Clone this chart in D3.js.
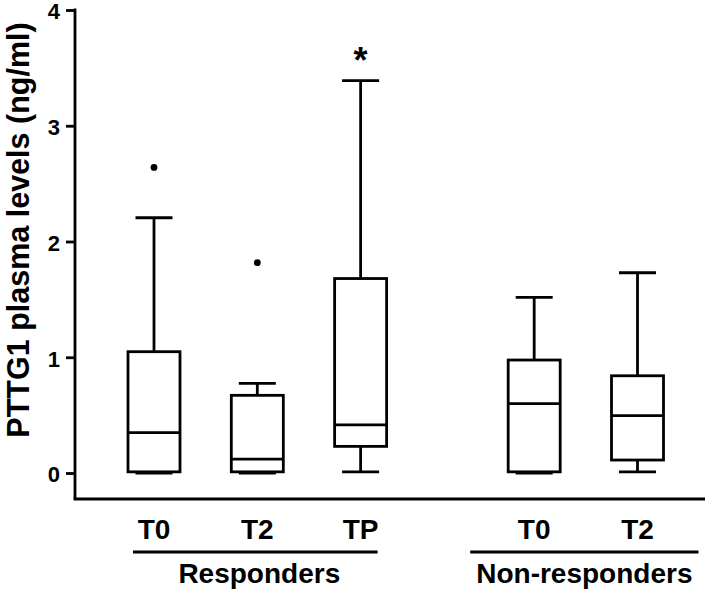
<!DOCTYPE html>
<html>
<head>
<meta charset="utf-8">
<script src="https://cdn.jsdelivr.net/npm/d3@7"></script>
<style>
  html, body { margin: 0; padding: 0; background: #fff; }
  svg { display: block; }
  text { font-family: Arial, "Liberation Sans", Helvetica, sans-serif; font-weight: bold; fill: #000; }
</style>
</head>
<body>
<svg id="chart" width="705" height="591"></svg>
<script>
// ---- data ----
const categories = ["T0", "T2", "TP", "T0", "T2"];
const groups = ["Responders", "Responders", "Responders", "Non-responders", "Non-responders"];
const groupNames = ["Responders", "Non-responders"];
const whiskerLow = [0.0, 0.0, 0.01, 0.0, 0.01];
const q1 = [0.01, 0.01, 0.23, 0.01, 0.112];
const median = [0.348, 0.12, 0.415, 0.599, 0.495];
const q3 = [1.048, 0.671, 1.68, 0.976, 0.84];
const whiskerHigh = [2.205, 0.775, 3.39, 1.518, 1.73];
const outliers = [[2.64], [1.817], [], [], []];
const significance = ["", "", "*", "", ""];
const yTicks = [0, 1, 2, 3, 4];
const yLabel = "PTTG1 plasma levels (ng/ml)";

// ---- layout ----
const svg = d3.select("#chart");
const groupGap = 0.68;
const slots = categories.map((c, i) => i + groupNames.indexOf(groups[i]) * groupGap);

const x = d3.scaleLinear().domain([0, d3.max(slots)]).range([154, 637.5]);
const y = d3.scaleLinear().domain([0, 4]).range([473, 10]);

const axisX = 75, axisBottom = 499;
const boxW = 52, capW = 37;
const sw = 2.8;

// y axis
const yAxis = d3.axisLeft(y).tickValues(yTicks).tickSize(9).tickPadding(6).tickFormat(d3.format("d"));
const gy = svg.append("g").attr("transform", `translate(${axisX},0)`).call(yAxis);
gy.select(".domain").remove();
gy.selectAll(".tick line").attr("stroke", "#000").attr("stroke-width", sw);
gy.selectAll(".tick text").attr("font-size", 22).attr("font-weight", "bold")
  .attr("font-family", "Arial, 'Liberation Sans', sans-serif").attr("fill", "#000")
  .attr("dy", "0.4em");
svg.append("line").attr("x1", axisX).attr("x2", axisX).attr("y1", y(4) - sw / 2).attr("y2", axisBottom)
  .attr("stroke", "#000").attr("stroke-width", sw);

// x axis line
svg.append("line").attr("x1", axisX - sw / 2).attr("x2", 705).attr("y1", axisBottom).attr("y2", axisBottom)
  .attr("stroke", "#000").attr("stroke-width", sw);

// y title
svg.append("text")
  .attr("transform", `translate(29,${230}) rotate(-90)`)
  .attr("text-anchor", "middle")
  .attr("font-size", 30.5)
  .text(yLabel);

// boxes
const g = svg.append("g").attr("fill", "none").attr("stroke", "#000").attr("stroke-width", sw);
categories.forEach((c, i) => {
  const cx = x(slots[i]);
  // whiskers
  g.append("line").attr("x1", cx).attr("x2", cx).attr("y1", y(q3[i])).attr("y2", y(whiskerHigh[i]));
  g.append("line").attr("x1", cx).attr("x2", cx).attr("y1", y(q1[i])).attr("y2", y(whiskerLow[i]));
  g.append("line").attr("x1", cx - capW / 2).attr("x2", cx + capW / 2).attr("y1", y(whiskerHigh[i])).attr("y2", y(whiskerHigh[i]));
  g.append("line").attr("x1", cx - capW / 2).attr("x2", cx + capW / 2).attr("y1", y(whiskerLow[i])).attr("y2", y(whiskerLow[i]));
  // box
  g.append("rect").attr("x", cx - boxW / 2).attr("width", boxW)
    .attr("y", y(q3[i])).attr("height", y(q1[i]) - y(q3[i])).attr("fill", "#fff");
  g.append("line").attr("x1", cx - boxW / 2).attr("x2", cx + boxW / 2).attr("y1", y(median[i])).attr("y2", y(median[i]));
  // outliers
  outliers[i].forEach(v => {
    svg.append("circle").attr("cx", cx).attr("cy", y(v)).attr("r", 3.4).attr("fill", "#000");
  });
  if (significance[i]) {
    svg.append("text").attr("x", cx).attr("y", y(whiskerHigh[i]) - 8)
      .attr("text-anchor", "middle").attr("font-size", 36).text(significance[i]);
  }
  // category label
  svg.append("text").attr("x", cx).attr("y", 539).attr("text-anchor", "middle")
    .attr("font-size", 28).text(c);
});

// group labels with underline
groupNames.forEach(gn => {
  const idx = groups.map((d, i) => d === gn ? i : -1).filter(i => i >= 0);
  const x0 = x(slots[idx[0]]), x1 = x(slots[idx[idx.length - 1]]);
  const pad = gn === "Responders" ? [21, 17] : [64, 61];
  svg.append("line").attr("x1", x0 - pad[0]).attr("x2", x1 + pad[1]).attr("y1", 552).attr("y2", 552)
    .attr("stroke", "#000").attr("stroke-width", sw);
  svg.append("text").attr("x", (x0 - pad[0] + x1 + pad[1]) / 2 + (gn === "Responders" ? 4 : 0)).attr("y", 583)
    .attr("text-anchor", "middle").attr("font-size", 28).text(gn);
});
</script>
</body>
</html>
